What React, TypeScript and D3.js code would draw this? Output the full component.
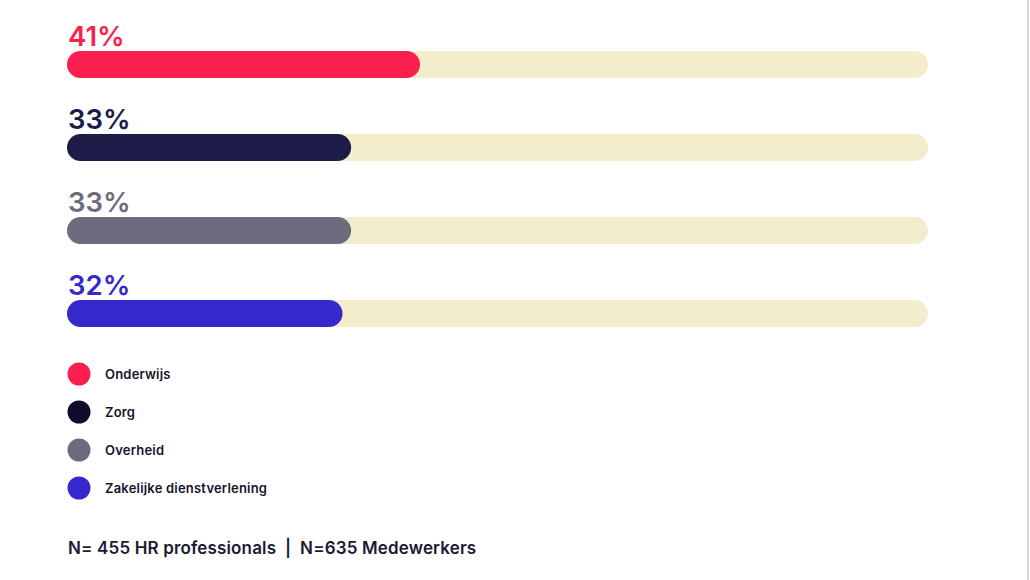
import { useEffect, useRef } from "react";
import * as d3 from "d3";

const categories = ["Onderwijs", "Zorg", "Overheid", "Zakelijke dienstverlening"];
const values = [41, 33, 33, 32];
const barColors = ["#fb1f50", "#1d1c48", "#6c6c7e", "#3528cc"];
const legendColors = ["#fb1f50", "#0e0c2a", "#6c6c7e", "#3528cc"];
const footnote = "N= 455 HR professionals  |  N=635 Medewerkers";

function App() {
  const svgRef = useRef<SVGSVGElement>(null);

  useEffect(() => {
    const svgEl = svgRef.current;
    if (!svgEl) return;
    const svg = d3.select(svgEl);
    svg.selectAll("*").remove();

    const barH = 27;
    const x = d3.scaleLinear().domain([0, 100]).range([67, 928]);
    const y = d3.scalePoint<string>().domain(categories).range([51, 300]);
    const data = categories.map((c, i) => ({ c, v: values[i], color: barColors[i] }));

    // background track
    svg
      .selectAll(".track")
      .data(data)
      .enter()
      .append("rect")
      .attr("x", x(0))
      .attr("y", (d) => y(d.c) || 0)
      .attr("width", x(100) - x(0))
      .attr("height", barH)
      .attr("rx", barH / 2)
      .attr("fill", "#f4edcb");

    // value bars
    svg
      .selectAll(".bar")
      .data(data)
      .enter()
      .append("rect")
      .attr("x", x(0))
      .attr("y", (d) => y(d.c) || 0)
      .attr("width", (d) => x(d.v) - x(0))
      .attr("height", barH)
      .attr("rx", barH / 2)
      .attr("fill", (d) => d.color);

    // percentage labels
    svg
      .selectAll(".label")
      .data(data)
      .enter()
      .append("text")
      .attr("x", x(0) + 1)
      .attr("y", (d) => (y(d.c) || 0) - 5)
      .text((d) => `${d.v}%`)
      .attr("fill", (d) => d.color)
      .style("font-family", "Inter, 'Noto Sans', sans-serif")
      .style("font-weight", 600)
      .style("font-size", "27.5px");

    // legend
    const ly = d3.scalePoint<string>().domain(categories).range([374, 488]);
    const legend = svg
      .selectAll(".legend")
      .data(data)
      .enter()
      .append("g")
      .attr("transform", (d) => `translate(79,${ly(d.c)})`);
    legend
      .append("circle")
      .attr("r", 11.5)
      .attr("fill", (_d, i) => legendColors[i]);
    legend
      .append("text")
      .attr("x", 26)
      .attr("dy", "0.35em")
      .text((d) => d.c)
      .attr("fill", "#15142a")
      .style("font-family", "Inter, 'Noto Sans', sans-serif")
      .style("font-weight", 600)
      .style("font-size", "13px")
      .style("letter-spacing", "0.2px");

    // footnote
    svg
      .append("text")
      .attr("x", 68)
      .attr("y", 554)
      .text(footnote)
      .attr("fill", "#1b1a33")
      .attr("xml:space", "preserve")
      .style("white-space", "pre")
      .style("font-family", "Inter, 'Noto Sans', sans-serif")
      .style("font-weight", 600)
      .style("font-size", "17px")
      .style("letter-spacing", "0.15px");

    // right border
    svg
      .append("line")
      .attr("x1", 1028)
      .attr("x2", 1028)
      .attr("y1", 0)
      .attr("y2", 580)
      .attr("stroke", "#d8d8d8")
      .attr("stroke-width", 2);

    return () => {
      svg.selectAll("*").remove();
    };
  }, []);

  return (
    <svg
      ref={svgRef}
      width={1030}
      height={580}
      style={{ position: "absolute", left: 0, top: 0, background: "#fff" }}
    ></svg>
  );
}

export default App;
